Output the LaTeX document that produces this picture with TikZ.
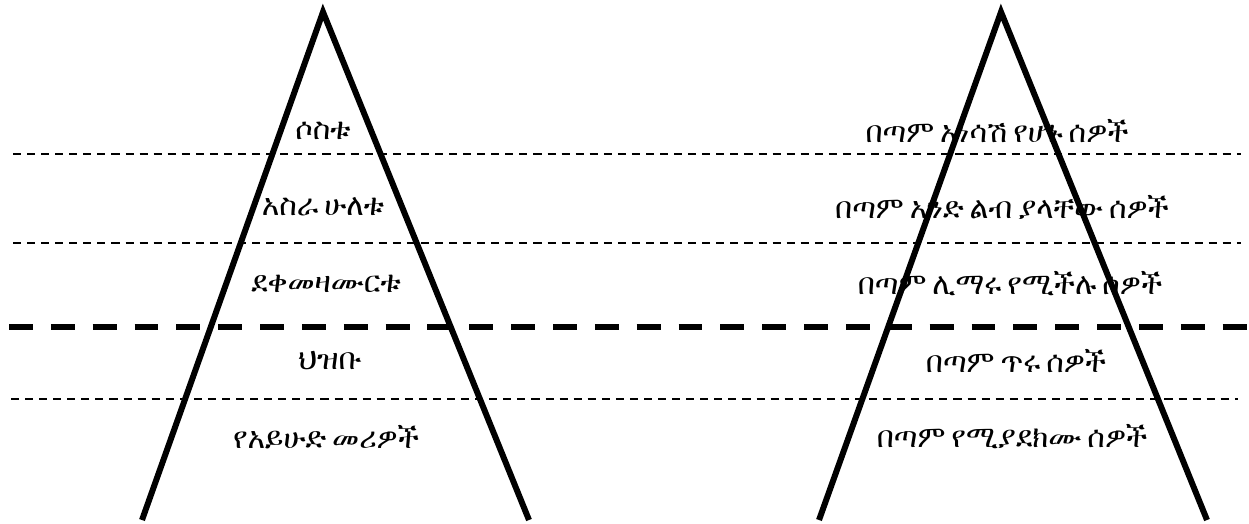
\documentclass[tikz,border=0pt]{standalone}
\usepackage{fontspec}
\IfFontExistsTF{FreeSerif}{\newfontfamily\amh[WordSpace=0.8]{FreeSerif}}{%
  \IfFontExistsTF{Abyssinica SIL}{\newfontfamily\amh[WordSpace=0.7]{Abyssinica SIL}}{\newfontfamily\amh{DejaVu Sans}}}

\tikzset{
  side/.style={line width=1.7pt},
  sep/.style={line width=0.55pt, dash pattern=on 2.3pt off 1.7pt},
  bigsep/.style={line width=1.8pt, dash pattern=on 6.8pt off 5.1pt},
  lvl/.style={font=\amh\fontsize{8.5}{10}\selectfont, inner sep=0pt}
}

\begin{document}
\begin{tikzpicture}[x=0.01cm, y=-0.01cm]

    \useasboundingbox (0,0) rectangle (1249,523);

    \def \ysepa {154}
    \def \ysepb {243}
    \def \ysepc {327}
    \def \ysepd {399}

    % left pyramid
    \coordinate (ltop) at (323,12);
    \coordinate (lbl) at (142,520);
    \coordinate (lbr) at (529,520);
    \draw[side] (lbl) -- (ltop) -- (lbr);

    % right pyramid
    \coordinate (rtop) at (1001,12);
    \coordinate (rbl) at (819,520);
    \coordinate (rbr) at (1207,520);
    \draw[side] (rbl) -- (rtop) -- (rbr);

    % level lines
    \draw[sep] (13,\ysepa) -- (1241,\ysepa);
    \draw[sep] (13,\ysepb) -- (1241,\ysepb);
    \draw[bigsep] (9,\ysepc) -- (1249,\ysepc);
    \draw[sep] (11,\ysepd) -- (1238,\ysepd);

    % left labels
    \node[lvl] (lthree) at (323,131) {ሶስቱ};
    \node[lvl] (ltwelve) at (323,207) {አስራ ሁለቱ};
    \node[lvl] (ldisc) at (326,284) {ደቀመዛሙርቱ};
    \node[lvl] (lcrowd) at (330,361) {ህዝቡ};
    \node[lvl] (llead) at (326,437) {የአይሁድ መሪዎች};

    % right labels
    \node[lvl] (rthree) at (997,131) {በጣም አነሳሽ የሆኑ ሰዎች};
    \node[lvl] (rtwelve) at (1002,207) {በጣም አንድ ልብ ያላቸው ሰዎች};
    \node[lvl] (rdisc) at (1010,284) {በጣም ሊማሩ የሚችሉ ሰዎች};
    \node[lvl] (rcrowd) at (1016,361) {በጣም ጥሩ ሰዎች};
    \node[lvl] (rlead) at (1012,437) {በጣም የሚያደክሙ ሰዎች};

\end{tikzpicture}
\end{document}
